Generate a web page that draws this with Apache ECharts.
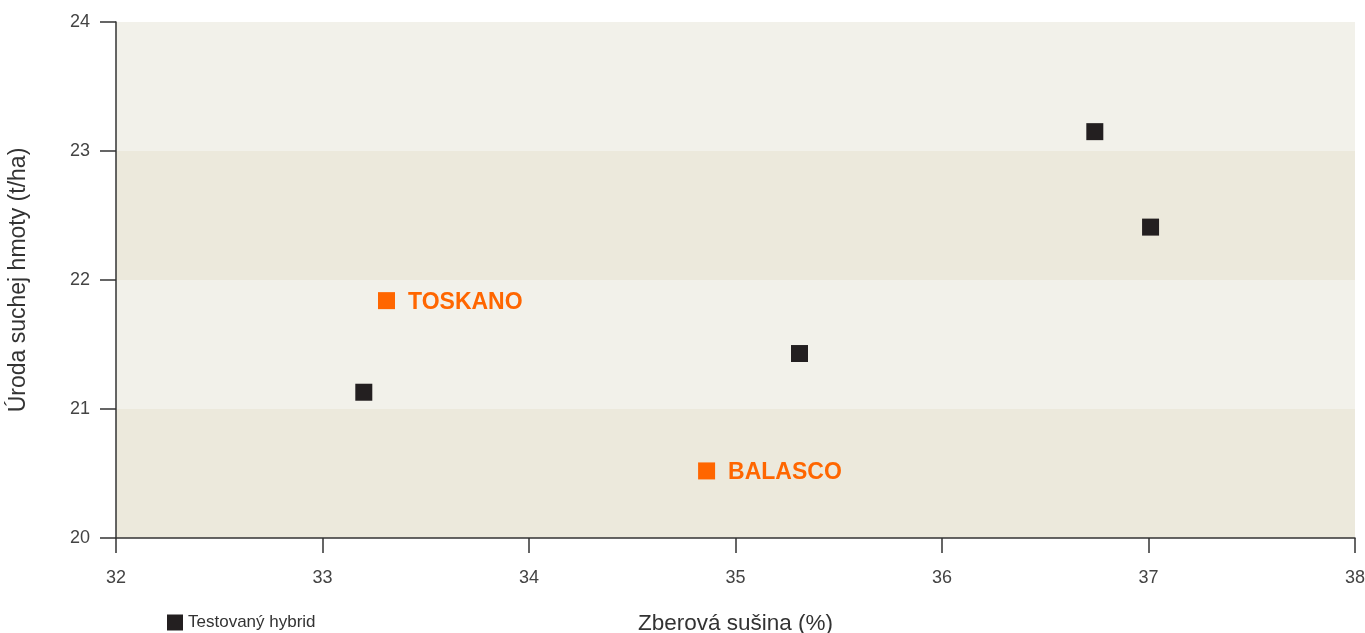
<!DOCTYPE html>
<html>
<head>
<meta charset="utf-8">
<script src="https://cdn.jsdelivr.net/npm/echarts@6/dist/echarts.min.js"></script>
<style>
html, body { margin: 0; padding: 0; background: #fff; overflow: hidden; }
#chart { width: 1365px; height: 633px; }
</style>
</head>
<body>
<div id="chart"></div>
<script>
// hodnoty odčítané z grafu: [sušina %, úroda t/ha]
const hybridPoints = [[33.2, 21.13], [35.31, 21.43], [36.74, 23.15], [37.01, 22.41]]
const toskanoPoint = [[33.31, 21.84]]
const balascoPoint = [[34.86, 20.52]]
const xTicks = [32, 38, 1]   // min, max, krok
const yTicks = [20, 24, 1]

const font = 'Liberation Sans, Arial, sans-serif'
const orange = '#ff6600'
const dark = '#231f20'

const chart = echarts.init(document.getElementById('chart'))

const namedPoint = (name, data) => ({
    name: name,
    type: 'scatter',
    symbol: 'rect',
    symbolSize: 17,
    itemStyle: { color: orange, opacity: 1 },
    label: {
        show: true,
        position: 'right',
        distance: 13,
        offset: [0, 2],
        formatter: name,
        color: orange,
        fontFamily: font,
        fontWeight: 'bold',
        fontSize: 23,
    },
    data: data,
})

chart.setOption({
    animation: false,
    grid: { left: 116, right: 10, top: 22, bottom: 95, outerBoundsMode: 'none' },
    legend: {
        data: ['Testovaný hybrid'],
        left: 162,
        top: 609,
        itemWidth: 16,
        itemHeight: 16,
        itemGap: 4,
        icon: 'rect',
        textStyle: { color: '#333', fontSize: 17, fontFamily: font },
    },
    xAxis: {
        type: 'value',
        min: xTicks[0],
        max: xTicks[1],
        interval: xTicks[2],
        name: 'Zberová sušina (%)',
        nameLocation: 'middle',
        nameGap: 74,
        nameTextStyle: { color: '#333', fontSize: 22.5, fontFamily: font },
        axisLine: { lineStyle: { color: '#333', width: 1.5 } },
        axisTick: { length: 15, lineStyle: { color: '#333', width: 1.5 } },
        axisLabel: { margin: 31, color: '#444', fontSize: 18, fontFamily: font },
        splitLine: { show: false },
    },
    yAxis: {
        type: 'value',
        min: yTicks[0],
        max: yTicks[1],
        interval: yTicks[2],
        name: 'Úroda suchej hmoty (t/ha)',
        nameLocation: 'middle',
        nameGap: 86,
        nameTextStyle: { color: '#333', fontSize: 23, fontFamily: font },
        axisLine: { show: true, lineStyle: { color: '#333', width: 1.5 } },
        axisTick: { show: true, length: 16, lineStyle: { color: '#333', width: 1.5 } },
        axisLabel: { margin: 26, color: '#444', fontSize: 18, fontFamily: font },
        splitLine: { show: false },
        splitArea: { show: true, areaStyle: { color: ['#ece9dc', '#f2f1ea'] } },
    },
    series: [
        {
            name: 'Testovaný hybrid',
            type: 'scatter',
            symbol: 'rect',
            symbolSize: 17,
            itemStyle: { color: dark, opacity: 1 },
            data: hybridPoints,
        },
        namedPoint('TOSKANO', toskanoPoint),
        namedPoint('BALASCO', balascoPoint),
    ],
})
</script>
</body>
</html>
